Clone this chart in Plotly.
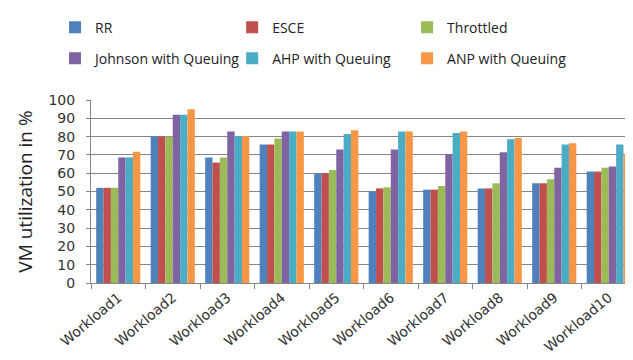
import plotly.graph_objects as go

categories = [f"Workload{i}" for i in range(1, 11)]
series_names = ["RR", "ESCE", "Throttled", "Johnson with Queuing", "AHP with Queuing", "ANP with Queuing"]
rr        = [52, 80, 68.6, 75.7, 60, 50, 51, 51.7, 54.5, 60.9]
esce      = [52, 80, 65.8, 75.7, 60, 51.7, 51, 51.7, 54.5, 60.9]
throttled = [52, 80, 68.6, 79, 61.8, 52.3, 53, 54.5, 56.7, 63]
johnson   = [68.6, 92, 82.8, 82.8, 73, 73, 70.4, 71.5, 63, 63.6]
ahp       = [68.6, 92, 80.3, 82.8, 81.4, 82.8, 82, 78.6, 75.7, 75.7]
anp       = [71.7, 94.9, 80.3, 82.8, 83.5, 82.8, 82.8, 79.3, 76.4, 70.4]
colors = ["#4F81BD", "#C0504D", "#9BBB59", "#8064A2", "#4BACC6", "#F79646"]
yticks = list(range(0, 101, 10))

# legend placement (one legend per entry, 3 columns x 2 rows)
leg_x = [-0.066, 0.259, 0.580, -0.066, 0.259, 0.580]
leg_y = [1.396, 1.396, 1.396, 1.226, 1.226, 1.226]

fig = go.Figure()
all_vals = [rr, esce, throttled, johnson, ahp, anp]
leg_ids = ["legend"] + [f"legend{i}" for i in range(2, 7)]
for i, (name, vals, c) in enumerate(zip(series_names, all_vals, colors)):
    fig.add_trace(go.Bar(x=categories, y=vals, name=name, marker_color=c,
                         marker_line_width=0, legend=leg_ids[i], showlegend=True))

leg_font = dict(family="Open Sans, sans-serif", size=14, color="#222")
legends = {}
for i, lid in enumerate(leg_ids):
    legends[lid] = dict(orientation="h", xanchor="left", yanchor="middle",
                        x=leg_x[i], y=leg_y[i], font=leg_font, visible=True,
                        itemwidth=30, bgcolor="rgba(0,0,0,0)")

fig.update_layout(
    width=633, height=360, showlegend=True,
    margin=dict(l=83, r=5, t=92, b=85, autoexpand=False),
    paper_bgcolor="white", plot_bgcolor="white",
    barmode="group", bargap=0.19, bargroupgap=0,
    font=dict(family="DejaVu Sans, sans-serif", color="#222", size=13),
    yaxis=dict(range=[0, 100], tickvals=yticks, showgrid=True, gridcolor="#868686",
               gridwidth=1, showline=True, linecolor="#868686", ticks="outside",
               ticklen=4, tickcolor="#868686", ticklabelstandoff=8,
               tickfont=dict(family="DejaVu Sans, sans-serif", size=14, color="#333"),
               title=dict(text="VM utilization in %",
                          font=dict(family="Open Sans, sans-serif", size=19, color="#222"),
                          standoff=10),
               zeroline=False, automargin=False),
    xaxis=dict(showline=True, linecolor="#868686", ticks="outside", tickson="boundaries",
               ticklen=5, tickcolor="#868686", tickangle=-40,
               tickfont=dict(family="DejaVu Sans, sans-serif", size=14, color="#333"),
               automargin=False),
    **legends,
)
fig.write_html("out.html")
